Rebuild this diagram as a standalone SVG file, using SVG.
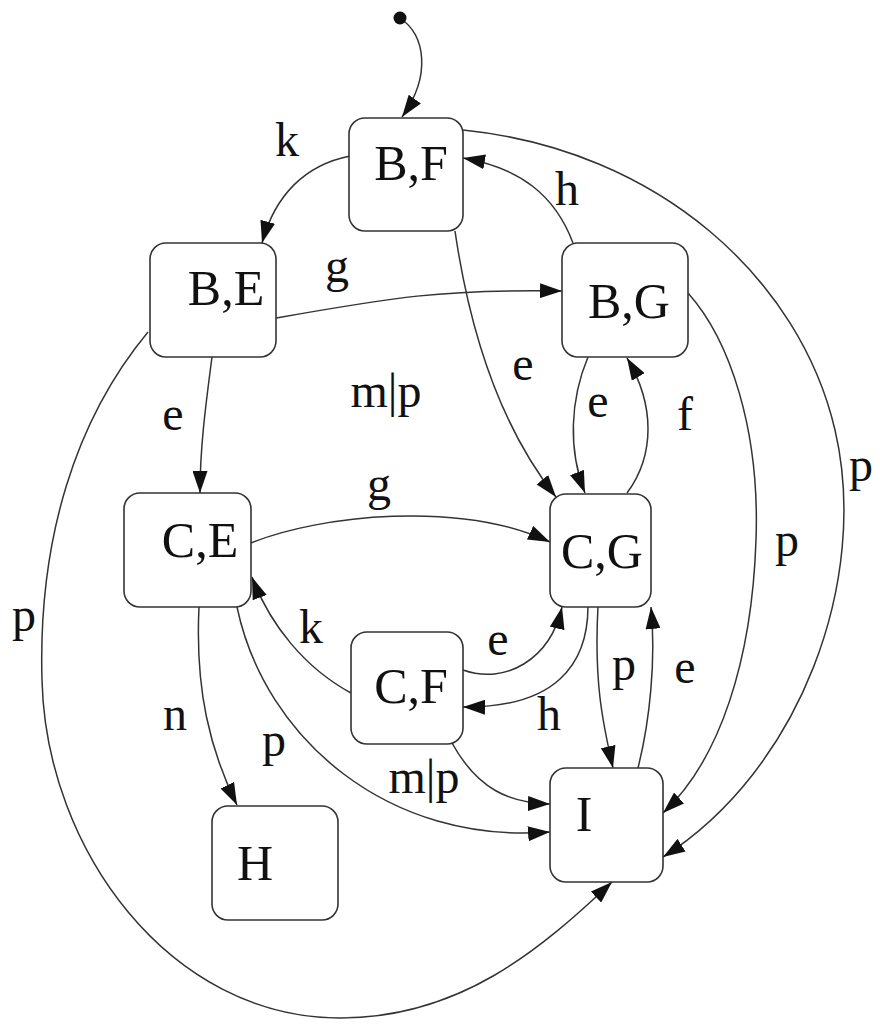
<svg xmlns="http://www.w3.org/2000/svg" width="880" height="1025" viewBox="0 0 880 1025">
<defs>
<style>
.node rect{fill:#fff;stroke:#333;stroke-width:1.6}
.node text{font-family:"Liberation Serif","Times New Roman",serif;font-size:50px;text-anchor:middle;fill:#111}
.edges path{fill:none;stroke:#333;stroke-width:1.5;marker-end:url(#arr)}
.lbl{font-family:"Liberation Serif","Times New Roman",serif;font-size:48px;text-anchor:middle;fill:#111}
</style>
<marker id="arr" viewBox="0 0 22 15" refX="22" refY="7.5" markerWidth="22" markerHeight="15" markerUnits="userSpaceOnUse" orient="auto">
<path d="M0,0 L22,7.5 L0,15 z" fill="#111"/>
</marker>
</defs>
<rect width="880" height="1025" fill="#fff"/>
<g class="edges">
<path d="M400,18 C425,35 432,75 402,117"/>
<path d="M350,156 C305,165 275,195 262,243"/>
<path d="M573,243 C555,195 520,168 463,158"/>
<path d="M463,130 C660,150 800,280 835,430 C870,580 800,770 663,857"/>
<path d="M688,293 C730,340 760,430 756,540 C752,660 720,760 663,813"/>
<path d="M276,318 C390,298 440,289 562,291"/>
<path d="M212,357 C205,410 200,450 200,493"/>
<path d="M455,231 C468,320 495,420 556,497"/>
<path d="M588,357 C570,400 568,450 585,493"/>
<path d="M627,493 C655,455 655,405 627,358"/>
<path d="M251,543 C320,515 460,500 550,542"/>
<path d="M148,332 C75,420 38,540 42,680 C46,850 170,1018 340,1018 C460,1018 540,950 612,882"/>
<path d="M351,693 C305,668 270,625 252,577"/>
<path d="M463,670 C505,685 550,660 562,607"/>
<path d="M588,606 C588,665 555,708 463,707"/>
<path d="M598,606 C594,680 602,720 613,768"/>
<path d="M638,768 C650,720 656,660 651,607"/>
<path d="M199,607 C195,690 210,750 237,805"/>
<path d="M237,607 C265,740 390,845 550,832"/>
<path d="M452,743 C478,790 510,803 550,804"/>
</g>
<circle cx="400" cy="18" r="6.5" fill="#111"/>
<g id="BF" class="node"><rect x="349" y="118" width="114" height="113" rx="16"/><text x="411" y="180">B,F</text></g>
<g id="BE" class="node"><rect x="150" y="243" width="126" height="114" rx="16"/><text x="226" y="305">B,E</text></g>
<g id="BG" class="node"><rect x="562" y="243" width="126" height="114" rx="16"/><text x="629" y="318">B,G</text></g>
<g id="CE" class="node"><rect x="124" y="493" width="127" height="114" rx="16"/><text x="200" y="557">C,E</text></g>
<g id="CG" class="node"><rect x="550" y="494" width="101" height="113" rx="16"/><text x="602" y="568">C,G</text></g>
<g id="CF" class="node"><rect x="351" y="632" width="112" height="112" rx="16"/><text x="411" y="703">C,F</text></g>
<g id="I" class="node"><rect x="550" y="768" width="113" height="114" rx="16"/><text x="584" y="831">I</text></g>
<g id="H" class="node"><rect x="212" y="806" width="126" height="114" rx="16"/><text x="255" y="880">H</text></g>
<g id="labels">
<text class="lbl" x="287" y="156">k</text>
<text class="lbl" x="567" y="205">h</text>
<text class="lbl" x="337" y="282">g</text>
<text class="lbl" x="386" y="407">m|p</text>
<text class="lbl" x="173" y="430">e</text>
<text class="lbl" x="523" y="380">e</text>
<text class="lbl" x="598" y="417">e</text>
<text class="lbl" x="685" y="430">f</text>
<text class="lbl" x="861" y="481">p</text>
<text class="lbl" x="787" y="556">p</text>
<text class="lbl" x="379" y="500">g</text>
<text class="lbl" x="24" y="631">p</text>
<text class="lbl" x="311" y="643">k</text>
<text class="lbl" x="498" y="655">e</text>
<text class="lbl" x="549" y="730">h</text>
<text class="lbl" x="624" y="680">p</text>
<text class="lbl" x="685" y="683">e</text>
<text class="lbl" x="175" y="730">n</text>
<text class="lbl" x="274" y="756">p</text>
<text class="lbl" x="424" y="793">m|p</text>
</g>
</svg>
